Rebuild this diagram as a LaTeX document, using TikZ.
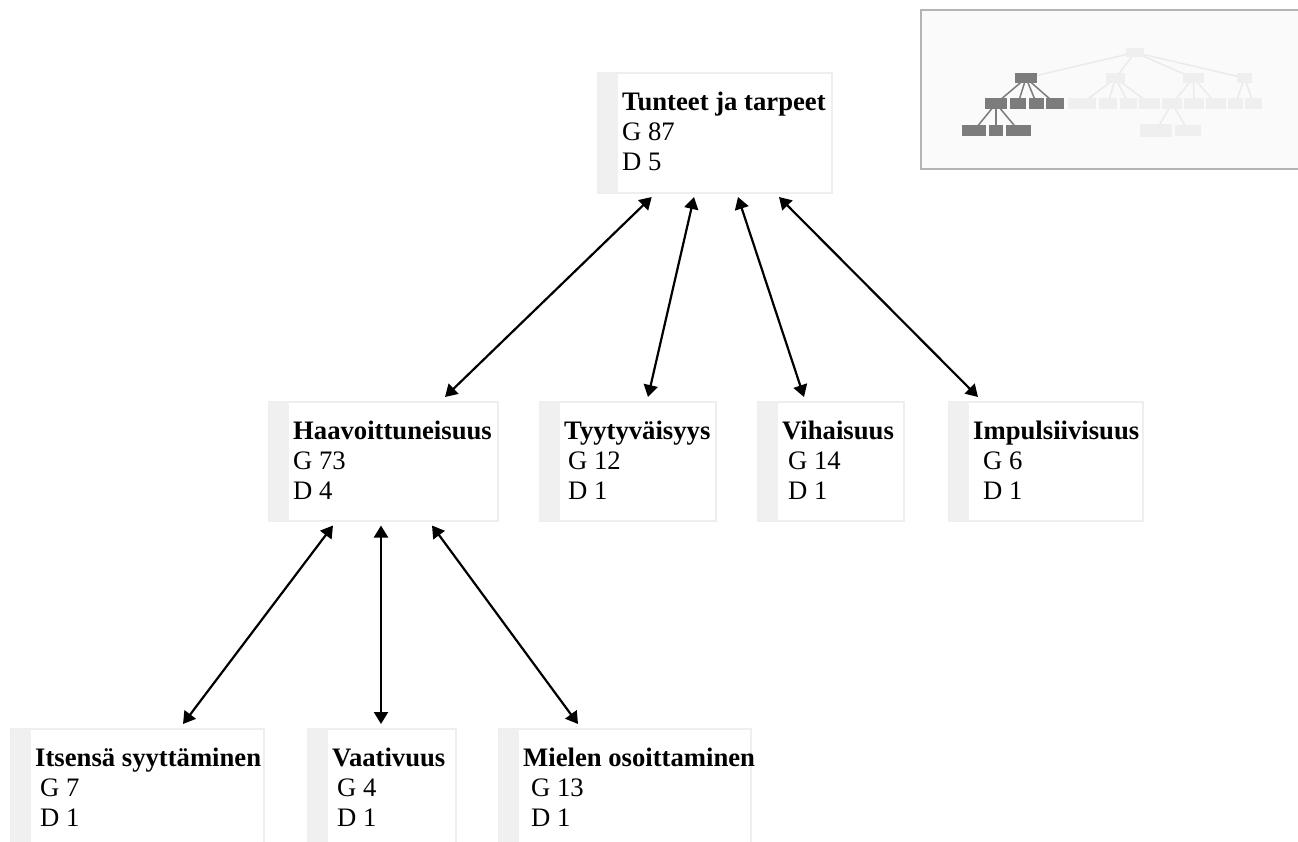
\documentclass[tikz,border=0pt]{standalone}
\usepackage{fontspec}
\setmainfont{Liberation Serif}
\usetikzlibrary{arrows.meta}
\definecolor{boxline}{HTML}{EEEEEE}
\definecolor{stripc}{HTML}{F0F0F0}
\definecolor{mmdark}{HTML}{7C7C7C}
\definecolor{mmlight}{HTML}{EFEFEF}
\definecolor{mmline}{HTML}{EBEBEB}
\definecolor{mmframe}{HTML}{B4B4B4}
\definecolor{mmbg}{HTML}{FAFAFA}
\tikzset{
  cbox/.style={draw=boxline, line width=2pt, fill=white, rectangle, inner sep=0pt, anchor=north west},
  lbl/.style={anchor=north west, inner sep=0pt, align=left, font=\fontsize{26.67}{30}\selectfont},
  arr/.style={line width=2.2pt, {Triangle[length=12pt,width=14pt]}-{Triangle[length=12pt,width=14pt]}},
  mmd/.style={fill=mmdark},
  mml/.style={fill=mmlight},
  mmld/.style={draw=mmdark, line width=1.5pt},
  mmll/.style={draw=mmline, line width=1.5pt}
}
\newcommand{\cnode}[6]{% name, x1, y1, x2, y2, text
  \node[cbox, minimum width=#4pt-#2pt, minimum height=#5pt-#3pt] (#1) at (#2,#3) {};
  \fill[stripc] ([shift={(1pt,-1pt)}]#1.north west) rectangle ([shift={(21pt,1pt)}]#1.south west);
  \node[lbl] (#1-t) at ([shift={(25pt,-17.5pt)}]#1.north west) {#6};
}
\begin{document}
\begin{tikzpicture}[x=1pt,y=-1pt]
\useasboundingbox (0,0) rectangle (1298,841);
\clip (0,0) rectangle (1298,841);
\fill[white] (0,0) rectangle (1298,841);

% minimap
\draw[draw=mmframe, line width=2.5pt, fill=mmbg] (921,10) rectangle (1310,169);
\coordinate (R) at (1135,52.5);
\coordinate (D1) at (1026,78); \coordinate (T1) at (1115.5,78);
\coordinate (V1) at (1193.5,78); \coordinate (I1) at (1244.5,78);
\coordinate (a) at (996,103.5); \coordinate (b) at (1018,103.5);
\coordinate (c) at (1036.5,103.5); \coordinate (d) at (1055,103.5);
\coordinate (e) at (1082,103.5); \coordinate (f) at (1108,103.5);
\coordinate (g) at (1128.5,103.5); \coordinate (h) at (1149.5,103.5);
\coordinate (i) at (1172,103.5); \coordinate (j) at (1194,103.5);
\coordinate (k) at (1216,103.5); \coordinate (l) at (1235.5,103.5);
\coordinate (m) at (1253.5,103.5);
\coordinate (p) at (974,130.5); \coordinate (q) at (996,130.5);
\coordinate (r) at (1018.5,130.5); \coordinate (s) at (1156,130.5);
\coordinate (t) at (1188,130.5);
\foreach \u/\v in {R/D1,R/T1,R/V1,R/I1,T1/e,T1/f,T1/g,T1/h,V1/i,V1/j,V1/k,i/s,i/t,I1/l,I1/m}
  \draw[mmll] (\u) -- (\v);
\foreach \u/\v in {D1/a,D1/b,D1/c,D1/d,a/p,a/q,a/r}
  \draw[mmld] (\u) -- (\v);
\fill[mml] (1126,48) rectangle (1144,57);
\fill[mmd] (1015,73) rectangle (1037,83);
\fill[mml] (1106,73) rectangle (1125,83);
\fill[mml] (1183,73) rectangle (1204,83);
\fill[mml] (1237,73) rectangle (1252,83);
\fill[mmd] (985,98) rectangle (1007,109);
\fill[mmd] (1010,98) rectangle (1026,109);
\fill[mmd] (1029,98) rectangle (1044,109);
\fill[mmd] (1046,98) rectangle (1064,109);
\fill[mml] (1068,98) rectangle (1096,109);
\fill[mml] (1099,98) rectangle (1117,109);
\fill[mml] (1120,98) rectangle (1137,109);
\fill[mml] (1139,98) rectangle (1160,109);
\fill[mml] (1162,98) rectangle (1182,109);
\fill[mml] (1184,98) rectangle (1204,109);
\fill[mml] (1206,98) rectangle (1226,109);
\fill[mml] (1228,98) rectangle (1243,109);
\fill[mml] (1245,98) rectangle (1262,109);
\fill[mmd] (962,125) rectangle (986,136);
\fill[mmd] (989,125) rectangle (1003,136);
\fill[mmd] (1006,125) rectangle (1031,136);
\fill[mml] (1140,124) rectangle (1172,137);
\fill[mml] (1175,125) rectangle (1201,136);

% nodes
\cnode{top}{597}{72}{831}{192}{\strut\textbf{Tunteet ja tarpeet}\\G 87\\D 5}
\cnode{haav}{268}{401}{497}{520}{\strut\textbf{Haavoittuneisuus}\\G 73\\D 4}
\cnode{tyyt}{539}{401}{715}{520}{\strut\textbf{Tyytyväisyys}\\\hspace*{4pt}G 12\\\hspace*{4pt}D 1}
\cnode{viha}{757}{401}{903}{520}{\strut\textbf{Vihaisuus}\\\hspace*{6pt}G 14\\\hspace*{6pt}D 1}
\cnode{impu}{948}{401}{1142}{520}{\strut\textbf{Impulsiivisuus}\\\hspace*{10pt}G 6\\\hspace*{10pt}D 1}
\cnode{itse}{10}{728}{263}{848}{\strut\textbf{Itsensä syyttäminen}\\\hspace*{5pt}G 7\\\hspace*{5pt}D 1}
\cnode{vaat}{307}{728}{455}{848}{\strut\textbf{Vaativuus}\\\hspace*{5pt}G 4\\\hspace*{5pt}D 1}
\cnode{miel}{498}{728}{750}{848}{\strut\textbf{Mielen osoittaminen}\\\hspace*{8pt}G 13\\\hspace*{8pt}D 1}

% connectors
\draw[arr] ([shift={(54.7pt,-3pt)}]top.south west) -- ([shift={(177pt,4pt)}]haav.north west);
\draw[arr] ([shift={(97pt,-3pt)}]top.south west) -- ([shift={(109pt,4pt)}]tyyt.north west);
\draw[arr] ([shift={(141pt,-3pt)}]top.south west) -- ([shift={(47pt,4pt)}]viha.north west);
\draw[arr] ([shift={(182pt,-3pt)}]top.south west) -- ([shift={(30pt,4pt)}]impu.north west);
\draw[arr] ([shift={(65pt,-3.5pt)}]haav.south west) -- ([shift={(173pt,4pt)}]itse.north west);
\draw[arr] ([shift={(113pt,-3.5pt)}]haav.south west) -- ([shift={(74pt,4pt)}]vaat.north west);
\draw[arr] ([shift={(164pt,-3.5pt)}]haav.south west) -- ([shift={(80pt,4pt)}]miel.north west);
\end{tikzpicture}
\end{document}
